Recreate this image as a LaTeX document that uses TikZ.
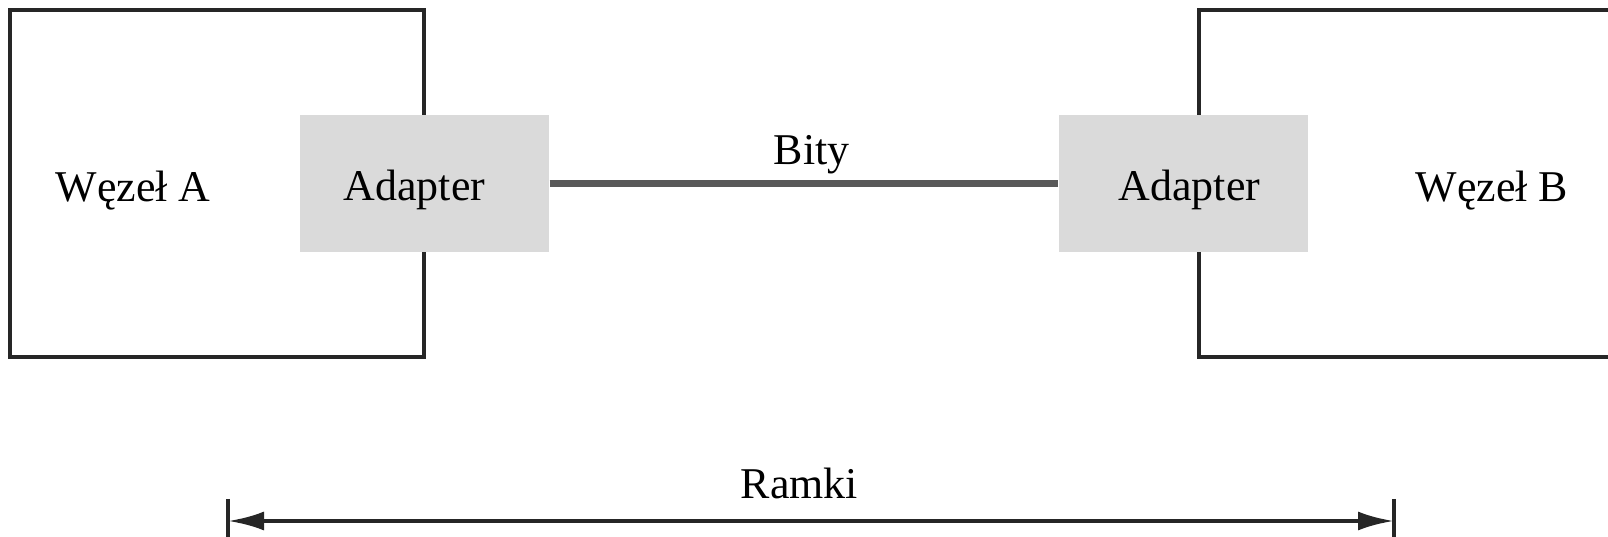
\documentclass[tikz,border=0pt]{standalone}
\usepackage{fontspec}
\setmainfont{Liberation Serif}
\usetikzlibrary{arrows.meta}
\definecolor{adaptergray}{HTML}{DADADA}
\definecolor{linkgray}{HTML}{595959}

\begin{document}
\begin{tikzpicture}[
  font=\fontsize{12.5}{15}\selectfont,
  wezel/.style={draw=black!85, line width=1.2pt, minimum width=4.14cm, minimum height=3.47cm, inner sep=0pt},
  adapter/.style={fill=adaptergray, minimum width=2.49cm, minimum height=1.37cm, inner sep=0pt, text height=12.5pt, text depth=2.7pt},
  wymiar/.style={black!85, line width=1.2pt}
]
\path[use as bounding box, clip] (0,0) rectangle (16.08,5.37);
% wezly
\node[wezel] (wezelA) at (2.17,3.535) {};
\node[wezel, minimum width=4.6cm] (wezelB) at (14.29,3.535) {};
\node (etykietaA) at (1.33,3.465) {Węzeł A};
\node (etykietaB) at (14.92,3.465) {Węzeł B};
% adaptery
\node[adapter] (adapterA) at (4.245,3.535) {\hspace*{-0.2cm}Adapter};
\node[adapter] (adapterB) at (11.835,3.535) {Adapter\hspace*{-0.12cm}};
\draw[linkgray, line width=2.2pt] (adapterA) -- (adapterB) node[pos=0.515, above=0.6mm, inner sep=0pt, black] (bity) {Bity};
% ramki
\coordinate (ramkiL) at (2.28,0.16);
\coordinate (ramkiR) at (13.94,0.16);
\draw[wymiar] (ramkiL) ++(0,0.22) -- ++(0,-0.5);
\draw[wymiar] (ramkiR) ++(0,0.22) -- ++(0,-0.5);
\draw[wymiar, {Latex[length=3.6mm,width=1.9mm]}-{Latex[length=3.6mm,width=1.9mm]}] (ramkiL) -- (ramkiR) node[pos=0.49, above=1.95mm, inner sep=0pt, black] (ramki) {Ramki};
\end{tikzpicture}
\end{document}
